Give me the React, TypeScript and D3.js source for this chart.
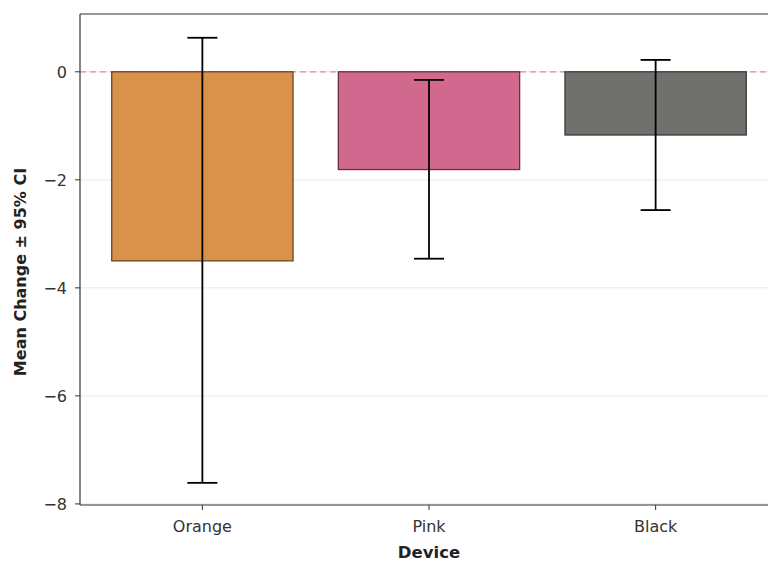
import React from "react";
import * as d3 from "d3";

const devices = ["Orange", "Pink", "Black"];
const means = [-3.5, -1.81, -1.17];
const ciLow = [-7.61, -3.46, -2.56];
const ciHigh = [0.63, -0.15, 0.22];
const barColors = ["#D9924A", "#D1698F", "#70706C"];
const edgeColors = ["#6b4420", "#6a2e45", "#3a3a38"];
const yTicks = [0, -2, -4, -6, -8];

const W = 768;
const H = 562;
const left = 80;
const right = 778;
const top = 14;
const bottom = 505;

export default function App() {
  const x = d3.scaleLinear().domain([-0.54, 2.54]).range([left, right]);
  const y = d3.scaleLinear().domain([-8.02, 1.07]).range([bottom, top]);
  const bw = x(0.4) - x(0);
  const cap = 15;
  const font = "DejaVu Sans, sans-serif";

  return (
    <svg width={W} height={H} style={{ position: "absolute", left: 0, top: 0, background: "#fff" }}>
      {/* horizontal grid */}
      {yTicks.map((t) => (
        <line key={"g" + t} x1={left} x2={right} y1={y(t)} y2={y(t)} stroke="#b0b0b0" strokeOpacity={0.3} strokeWidth={1} />
      ))}
      {/* zero reference */}
      <line x1={left} x2={right} y1={y(0)} y2={y(0)} stroke="#e06070" strokeOpacity={0.7} strokeWidth={1.3} strokeDasharray="6,4" />
      {/* bars */}
      {devices.map((d, i) => (
        <rect
          key={d}
          x={x(i) - bw}
          y={y(0)}
          width={bw * 2}
          height={y(means[i]) - y(0)}
          fill={barColors[i]}
          stroke={edgeColors[i]}
          strokeWidth={1.3}
        />
      ))}
      {/* error bars */}
      {devices.map((d, i) => (
        <g key={"e" + d} stroke="#000" strokeWidth={1.8}>
          <line x1={x(i)} x2={x(i)} y1={y(ciHigh[i])} y2={y(ciLow[i])} />
          <line x1={x(i) - cap} x2={x(i) + cap} y1={y(ciHigh[i])} y2={y(ciHigh[i])} />
          <line x1={x(i) - cap} x2={x(i) + cap} y1={y(ciLow[i])} y2={y(ciLow[i])} />
        </g>
      ))}
      {/* spines */}
      <line x1={left} x2={left} y1={top} y2={bottom} stroke="#333" strokeWidth={1.2} />
      <line x1={left} x2={right} y1={bottom} y2={bottom} stroke="#333" strokeWidth={1.2} />
      <line x1={left} x2={right} y1={top} y2={top} stroke="#333" strokeWidth={1.2} />
      {/* y ticks */}
      {yTicks.map((t) => (
        <g key={"t" + t}>
          <line x1={left - 5} x2={left} y1={y(t)} y2={y(t)} stroke="#333" strokeWidth={1} />
          <text x={left - 13} y={y(t)} dy="0.36em" textAnchor="end" fontFamily={font} fontSize={16} fill="#333">
            {t === 0 ? "0" : "\u2212" + Math.abs(t)}
          </text>
        </g>
      ))}
      {/* x ticks */}
      {devices.map((d, i) => (
        <g key={"x" + d}>
          <line x1={x(i)} x2={x(i)} y1={bottom} y2={bottom + 5} stroke="#333" strokeWidth={1} />
          <text x={x(i)} y={bottom + 27} textAnchor="middle" fontFamily={font} fontSize={16} fill="#333">
            {d}
          </text>
        </g>
      ))}
      <text x={429} y={558} textAnchor="middle" fontFamily={font} fontSize={16.5} fontWeight="bold" fill="#222">
        Device
      </text>
      <text
        transform={`translate(26,${272}) rotate(-90)`}
        textAnchor="middle"
        fontFamily={font}
        fontSize={16}
        fontWeight="bold"
        fill="#222"
      >
        Mean Change ± 95% CI
      </text>
    </svg>
  );
}
